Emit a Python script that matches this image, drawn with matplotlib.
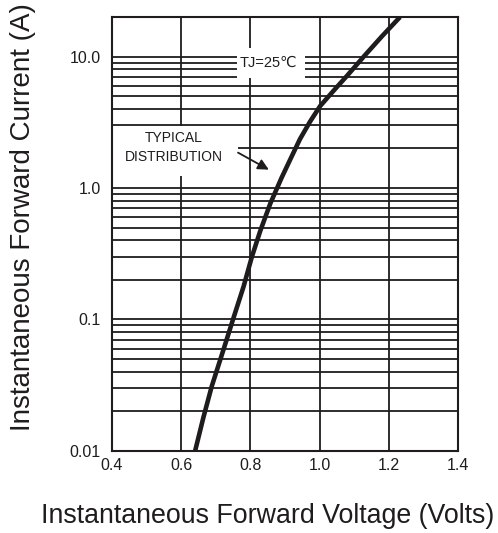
import matplotlib
matplotlib.use('Agg')
import matplotlib.pyplot as plt
import numpy as np
from matplotlib.patches import Rectangle
from matplotlib.ticker import LogLocator, FixedLocator, NullFormatter

plt.rcParams['font.family'] = ['Liberation Sans', 'DejaVu Sans']

# curve: forward voltage (V) vs current (A)
volts = [0.640, 0.664, 0.688, 0.722, 0.751, 0.780, 0.804, 0.828, 0.857,
         0.890, 0.919, 0.943, 0.972, 1.001, 1.040, 1.080, 1.130, 1.180, 1.232]
amps = [0.010, 0.018, 0.031, 0.059, 0.103, 0.178, 0.30, 0.47, 0.76,
        1.20, 1.74, 2.36, 3.2, 4.2, 5.5, 7.2, 10.2, 14.3, 20.0]

x_ticks = [0.4, 0.6, 0.8, 1.0, 1.2, 1.4]
y_ticks = [0.01, 0.1, 1.0, 10.0]
y_labels = ['0.01', '0.1', '1.0', '10.0']

ink = '#1e1c1c'

fig = plt.figure(figsize=(4.98, 5.33), dpi=100)
ax = fig.add_axes([0.225, 0.154, 0.695, 0.814])

ax.set_yscale('log')
ax.set_xlim(0.4, 1.4)
ax.set_ylim(0.01, 20)

ax.xaxis.set_major_locator(FixedLocator(x_ticks))
ax.set_xticklabels(['%.1f' % v for v in x_ticks])
ax.yaxis.set_major_locator(FixedLocator(y_ticks))
ax.set_yticklabels(y_labels)
ax.yaxis.set_minor_locator(LogLocator(base=10, subs=np.arange(2, 10)))
ax.yaxis.set_minor_formatter(NullFormatter())

ax.grid(True, which='both', color=ink, linewidth=1.3)
ax.tick_params(which='both', length=0, labelsize=11.5, colors=ink)
ax.tick_params(axis='x', pad=5)
ax.tick_params(axis='y', pad=8)
for s in ax.spines.values():
    s.set_linewidth(1.5)
    s.set_color(ink)

ax.plot(volts, amps, color=ink, linewidth=3.3, zorder=3,
        solid_capstyle='butt', solid_joinstyle='round')

# white boxes behind the annotations, hiding the grid
ax.add_patch(Rectangle((0.761, 6.9), 0.197, 4.8, facecolor='white',
                       edgecolor='none', zorder=2.4))
ax.add_patch(Rectangle((0.403, 1.24), 0.361, 1.74, facecolor='white',
                       edgecolor='none', zorder=2.4))

ax.text(0.851, 9.0, 'TJ=25℃', fontsize=10.5, ha='center', va='center',
        color=ink, zorder=4)
ax.text(0.578, 2.03, 'TYPICAL\nDISTRIBUTION', fontsize=10, ha='center',
        va='center', linespacing=1.4, color=ink, zorder=4)
ax.annotate('', xy=(0.853, 1.38), xytext=(0.764, 1.86),
            arrowprops=dict(arrowstyle='-|>', color=ink, lw=1.3,
                            mutation_scale=16, shrinkA=0, shrinkB=0), zorder=5)

fig.text(268 / 498, 1 - 523 / 533, 'Instantaneous Forward Voltage (Volts)',
         fontsize=19.3, ha='center', va='baseline', color=ink)
fig.text(23 / 498, 1 - 217 / 533, 'Instantaneous Forward Current (A)',
         fontsize=20, rotation=90, ha='center', va='center', color=ink)

fig.savefig('out.png', dpi=100)
